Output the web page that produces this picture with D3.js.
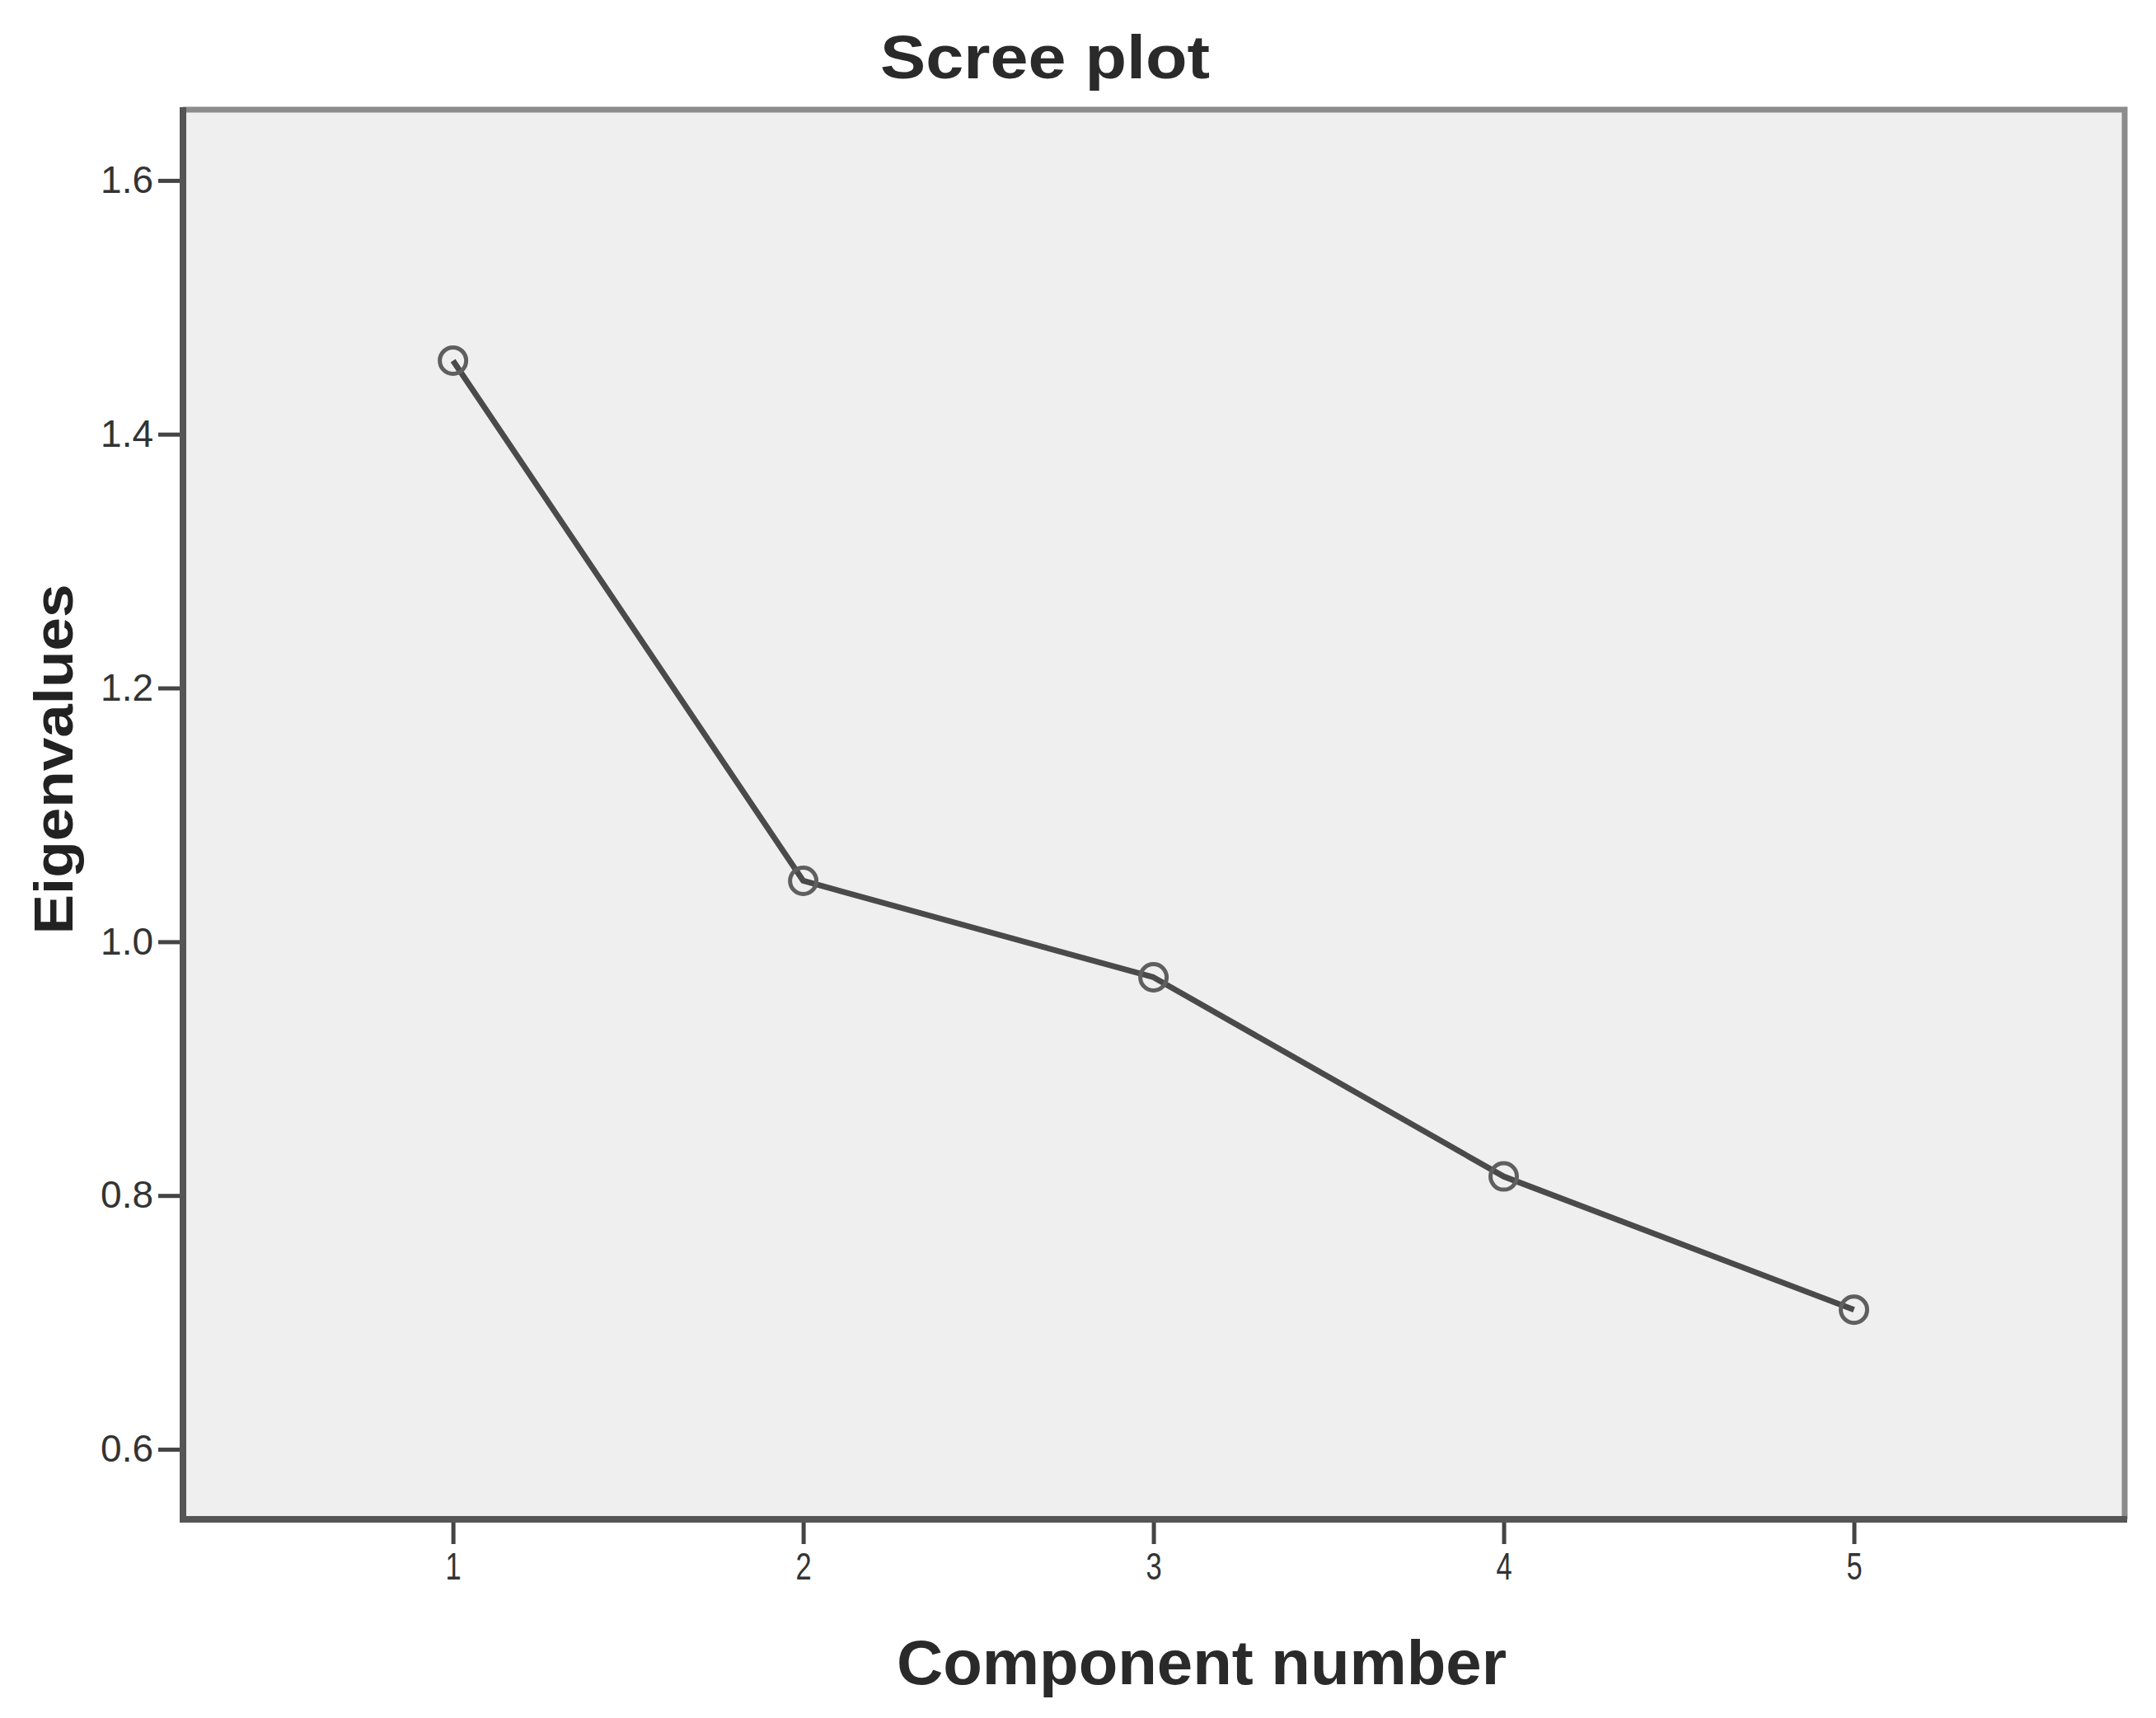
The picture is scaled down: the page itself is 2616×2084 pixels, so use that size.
<!DOCTYPE html>
<html><head><meta charset="utf-8">
<script src="https://cdn.jsdelivr.net/npm/d3@7"></script>
<style>html,body{margin:0;padding:0;background:#fff;}</style>
</head><body>
<svg id="chart" width="2616" height="2084"></svg>
<script>
const components = [1, 2, 3, 4, 5];
const eigenvalues = [1.458, 1.048, 0.972, 0.815, 0.710];
const yTicks = [0.6, 0.8, 1.0, 1.2, 1.4, 1.6];
const xTicks = [1, 2, 3, 4, 5];
const titleText = "Scree plot";
const xLabel = "Component number";
const yLabel = "Eigenvalues";

const svg = d3.select("#chart");
const L = 222, R = 2578, T = 133, B = 1843;

const x = d3.scaleLinear().domain([0.229, 5.773]).range([L, R]);
const y = d3.scaleLinear().domain([0.5448, 1.6558]).range([B, T]);

// plot background
svg.append("rect").attr("x", L).attr("y", T).attr("width", R - L).attr("height", B - T)
  .attr("fill", "#efefef");
// top & right border (lighter)
svg.append("path").attr("d", `M${L},${T}H${R}V${B}`)
  .attr("fill", "none").attr("stroke", "#8c8c8c").attr("stroke-width", 7);

// axes
const yAxis = d3.axisLeft(y).tickValues(yTicks).tickFormat(d3.format(".1f")).tickSize(30).tickPadding(6);
const xAxis = d3.axisBottom(x).tickValues(xTicks).tickFormat(d3.format("d")).tickSize(30).tickPadding(10);

const gy = svg.append("g").attr("transform", `translate(${L},0)`).call(yAxis);
gy.select(".domain").remove();
gy.selectAll(".tick line").attr("stroke", "#444").attr("stroke-width", 5);
gy.selectAll(".tick text").attr("font-family", "Liberation Sans, Arial, sans-serif")
  .attr("font-size", 46).attr("fill", "#333");

const gx = svg.append("g").attr("transform", `translate(0,${B})`).call(xAxis);
gx.select(".domain").remove();
gx.selectAll(".tick line").attr("stroke", "#444").attr("stroke-width", 5);
gx.selectAll(".tick text").attr("font-family", "Liberation Sans, Arial, sans-serif")
  .attr("font-size", 46).attr("fill", "#333").attr("dy", "0.71em")
  .attr("transform", "scale(0.75,1)");

// left and bottom axis lines (darker)
svg.append("path").attr("d", `M${L},${T - 3}V${B}H${R + 3}`)
  .attr("fill", "none").attr("stroke", "#555").attr("stroke-width", 8);

// line
const data = components.map((c, i) => ({c, v: eigenvalues[i]}));
svg.append("path").datum(data)
  .attr("d", d3.line().x(d => x(d.c)).y(d => y(d.v)))
  .attr("fill", "none").attr("stroke", "#4a4a4a").attr("stroke-width", 7)
  .attr("stroke-linejoin", "round");

svg.selectAll("circle.pt").data(data).enter().append("circle").attr("class", "pt")
  .attr("cx", d => x(d.c)).attr("cy", d => y(d.v)).attr("r", 16)
  .attr("fill", "none").attr("stroke", "#5f5f5f").attr("stroke-width", 5);

// title
svg.append("text").attr("x", 1268).attr("y", 95).attr("text-anchor", "middle")
  .attr("font-family", "Liberation Sans, Arial, sans-serif").attr("font-weight", "bold")
  .attr("font-size", 74).attr("fill", "#2a2a2a")
  .attr("textLength", 400).attr("lengthAdjust", "spacingAndGlyphs")
  .text(titleText);

// x label
svg.append("text").attr("x", 1458).attr("y", 2043).attr("text-anchor", "middle")
  .attr("font-family", "Liberation Sans, Arial, sans-serif").attr("font-weight", "bold")
  .attr("font-size", 76).attr("fill", "#2a2a2a")
  .attr("textLength", 740).attr("lengthAdjust", "spacingAndGlyphs")
  .text(xLabel);

// y label
svg.append("text").attr("transform", "translate(88,921) rotate(-90)").attr("text-anchor", "middle")
  .attr("font-family", "Liberation Sans, Arial, sans-serif").attr("font-weight", "bold")
  .attr("font-size", 66).attr("fill", "#222")
  .attr("textLength", 425).attr("lengthAdjust", "spacingAndGlyphs")
  .text(yLabel);
</script>
</body></html>
